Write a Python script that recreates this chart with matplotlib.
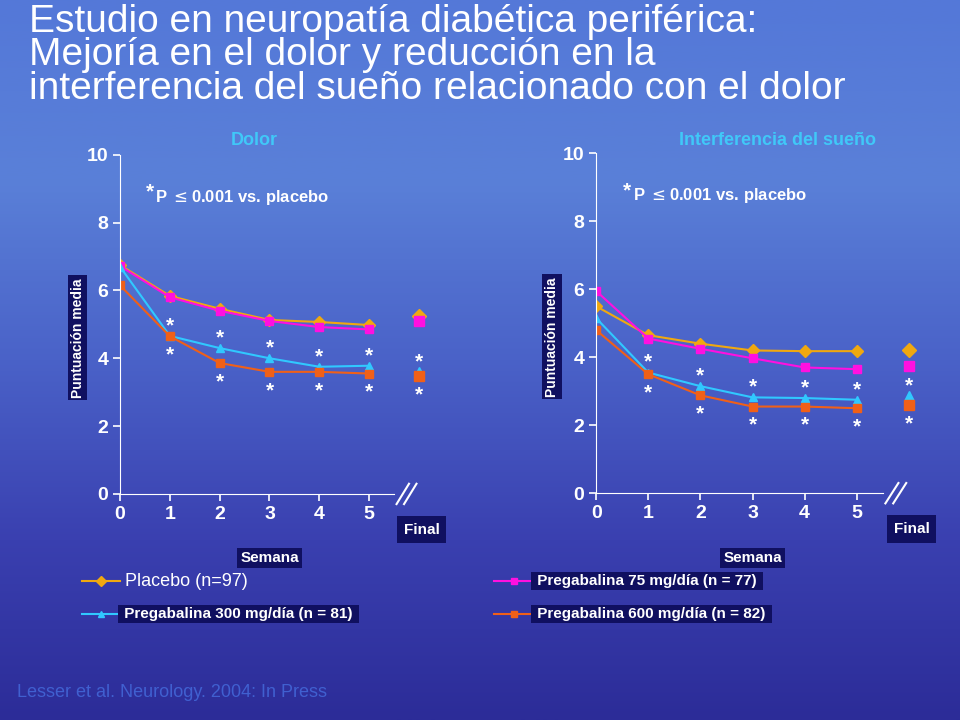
import numpy as np
import matplotlib.pyplot as plt
from matplotlib.lines import Line2D
from matplotlib.colors import LinearSegmentedColormap

plt.rcParams['font.family'] = 'Liberation Sans'

weeks = [0, 1, 2, 3, 4, 5]
final_x = 6.0

# Dolor
dolor_placebo = [6.75, 5.84, 5.46, 5.13, 5.07, 4.98]
dolor_75 = [6.72, 5.80, 5.40, 5.10, 4.92, 4.85]
dolor_300 = [6.70, 4.66, 4.30, 4.00, 3.75, 3.78]
dolor_600 = [6.15, 4.65, 3.86, 3.60, 3.60, 3.55]
dolor_final = {'placebo': 5.25, '75': 5.10, '300': 3.60, '600': 3.48}

# Interferencia del sueño
sueno_placebo = [5.50, 4.65, 4.40, 4.20, 4.18, 4.18]
sueno_75 = [5.95, 4.55, 4.25, 3.97, 3.70, 3.65]
sueno_300 = [5.15, 3.55, 3.15, 2.82, 2.80, 2.75]
sueno_600 = [4.80, 3.50, 2.88, 2.55, 2.55, 2.50]
sueno_final = {'placebo': 4.20, '75': 3.75, '300': 2.87, '600': 2.60}

colors = {'placebo': '#F0A810', '75': '#FF10E0', '300': '#30C8FF', '600': '#F06018'}
markers = {'placebo': 'D', '75': 's', '300': '^', '600': 's'}
navy = '#101060'

fig = plt.figure(figsize=(9.6, 7.2), dpi=100)
bg = fig.add_axes([0, 0, 1, 1], zorder=-10)
grad = np.linspace(0, 1, 256).reshape(-1, 1)
cmap = LinearSegmentedColormap.from_list('bg', ['#5478D8', '#5A80D8', '#4A62C8', '#3A40B0', '#2C2C98'])
bg.imshow(grad, aspect='auto', cmap=cmap, extent=[0, 1, 0, 1])
bg.axis('off')

fig.text(0.03, 0.995, 'Estudio en neuropatía diabética periférica:\nMejoría en el dolor y reducción en la\ninterferencia del sueño relacionado con el dolor',
         color='white', fontsize=28, va='top', ha='left', linespacing=0.92)


def panel(rect, data, final, title, title_x):
    ax = fig.add_axes(rect)
    ax.set_facecolor('none')
    names = ['placebo', '75', '300', '600']
    for name, vals in zip(names, data):
        ax.plot(weeks, vals, color=colors[name], marker=markers[name], markersize=6, lw=1.5)
        ax.plot([final_x], [final[name]], color=colors[name], marker=markers[name], markersize=7, ls='none')
    ax.set_xlim(0, 6.3)
    ax.set_ylim(0, 10)
    ax.set_xticks(weeks)
    ax.set_yticks([0, 2, 4, 6, 8, 10])
    for s in ['top', 'right']:
        ax.spines[s].set_visible(False)
    ax.spines['left'].set_color('white')
    ax.spines['bottom'].set_color('white')
    ax.spines['bottom'].set_bounds(0, 5.5)
    ax.tick_params(colors='white', labelsize=14, width=1.2, length=5)
    for lab in ax.get_xticklabels() + ax.get_yticklabels():
        lab.set_fontweight('bold')
    for dx in (0, 0.15):
        ax.plot([5.55 + dx, 5.8 + dx], [-0.3, 0.3], color='white', lw=1.5, clip_on=False)
    xs = weeks[1:] + [final_x]
    up = data[2][1:] + [final['300']]
    lo = data[3][1:] + [final['600']]
    for x, u, l in zip(xs, up, lo):
        ax.text(x, u + 0.3, '*', color='white', fontsize=15, fontweight='bold', ha='center', va='center')
        ax.text(x, l - 0.55, '*', color='white', fontsize=15, fontweight='bold', ha='center', va='center')
    ax.text(0.6, 8.9, '*', color='white', fontsize=15, fontweight='bold', ha='center', va='center')
    ax.text(0.7, 8.75, 'P $\\leq$0.001 vs. placebo', color='white', fontsize=12, fontweight='bold', va='center')
    ax.text(6.05, -1.05, 'Final', color='white', fontsize=11, fontweight='bold', ha='center', va='center',
            bbox=dict(facecolor=navy, edgecolor='none', boxstyle='square,pad=0.45'))
    ax.text(-0.85, 4.6, 'Puntuación media', color='white', fontsize=10, fontweight='bold', rotation=90,
            ha='center', va='center', bbox=dict(facecolor=navy, edgecolor='none', boxstyle='square,pad=0.2'))
    ax.text(3.0, -1.9, 'Semana', color='white', fontsize=11, fontweight='bold', ha='center', va='center',
            bbox=dict(facecolor=navy, edgecolor='none', boxstyle='square,pad=0.2'))
    fig.text(title_x, 0.805, title, color='#40C8F8', fontsize=13, fontweight='bold', ha='center', va='center')
    return ax


panel([0.125, 0.314, 0.327, 0.471], [dolor_placebo, dolor_75, dolor_300, dolor_600], dolor_final, 'Dolor', 0.265)
panel([0.621, 0.315, 0.342, 0.472], [sueno_placebo, sueno_75, sueno_300, sueno_600], sueno_final,
      'Interferencia del sueño', 0.81)

leg = [('placebo', 'Placebo (n=97)', 0.085, 0.193, False),
       ('75', 'Pregabalina 75 mg/día (n = 77)', 0.515, 0.193, True),
       ('300', 'Pregabalina 300 mg/día (n = 81)', 0.085, 0.147, True),
       ('600', 'Pregabalina 600 mg/día (n = 82)', 0.515, 0.147, True)]
for name, label, x, y, boxed in leg:
    fig.add_artist(Line2D([x, x + 0.02, x + 0.04], [y, y, y], color=colors[name], marker=markers[name],
                          markevery=[1], markersize=5, lw=1.5, transform=fig.transFigure))
    if boxed:
        fig.text(x + 0.04, y, ' ' + label + ' ', color='white', fontsize=11, fontweight='bold', va='center',
                 bbox=dict(facecolor=navy, edgecolor='none', boxstyle='square,pad=0.15'))
    else:
        fig.text(x + 0.04, y, ' ' + label, color='white', fontsize=13, va='center')

fig.text(0.018, 0.032, 'Lesser et al. Neurology. 2004: In Press', color='#4060D0', fontsize=13)

fig.savefig('out.png', dpi=100)
